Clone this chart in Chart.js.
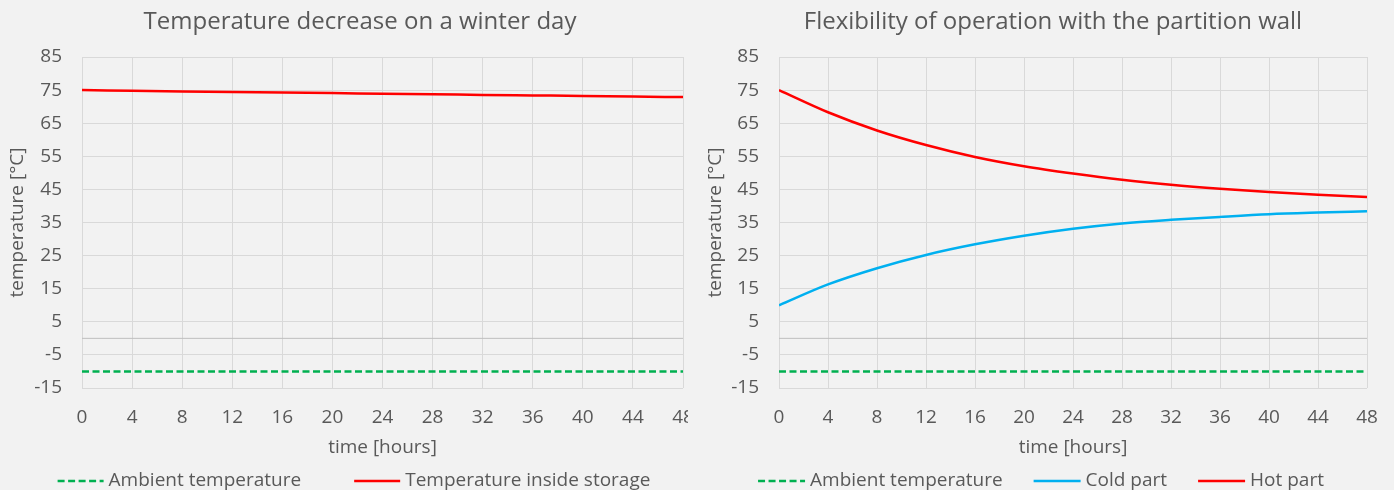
<!DOCTYPE html>
<html><head><meta charset="utf-8">
<script src="https://cdn.jsdelivr.net/npm/chart.js@4.4.1/dist/chart.umd.min.js"></script>
<style>
html,body{margin:0;padding:0;background:#f2f2f2;overflow:hidden;width:1394px;height:490px;}
#w1{position:absolute;left:0;top:0;width:688px;height:490px;overflow:hidden;}
#c2{position:absolute;left:697px;top:0;}
</style></head><body>
<div id="w1"><canvas id="c1" width="720" height="490"></canvas></div>
<canvas id="c2" width="712" height="490"></canvas>
<script>
// ---- data ----
const hours = [0, 4, 8, 12, 16, 20, 24, 28, 32, 36, 40, 44, 48];
const yTickValues = [-15, -5, 5, 15, 25, 35, 45, 55, 65, 75, 85];
const ambientTemp = [-10, -10, -10, -10, -10, -10, -10, -10, -10, -10, -10, -10, -10];
const storageTemp = [75.0, 74.8, 74.6, 74.45, 74.25, 74.1, 73.9, 73.75, 73.55, 73.4, 73.25, 73.05, 72.9];
const coldPart = [10.0, 16.3, 21.2, 25.2, 28.4, 31.0, 33.1, 34.7, 35.8, 36.7, 37.5, 38.0, 38.4];
const hotPart = [75.0, 68.3, 62.8, 58.4, 54.8, 52.0, 49.8, 47.9, 46.4, 45.2, 44.2, 43.4, 42.7];
const zeroHours = [0, 48];
const zeroValues = [0, 0];

const FONT = "'Open Sans', sans-serif";
const TXT = '#595959';
Chart.defaults.font.family = FONT;
Chart.defaults.color = TXT;

const pts = (xs, ys) => xs.map((x, i) => ({x: x, y: ys[i]}));

const bottomLegend = {
  id: 'bottomLegend',
  afterDraw(chart, args, o) {
    const ctx = chart.ctx;
    const items = chart.data.datasets.filter(d => !d.hideInLegend);
    ctx.save();
    ctx.font = o.size + 'px ' + FONT;
    const widths = items.map(d => ctx.measureText(d.label).width);
    let total = o.itemGap * (items.length - 1);
    items.forEach((d, i) => { total += o.lineLen + o.textGap + widths[i]; });
    let x = o.cx - total / 2;
    items.forEach((d, i) => {
      ctx.strokeStyle = d.borderColor; ctx.lineWidth = d.borderWidth;
      ctx.setLineDash(d.borderDash || []);
      ctx.beginPath(); ctx.moveTo(x, o.y); ctx.lineTo(x + o.lineLen, o.y); ctx.stroke();
      ctx.setLineDash([]);
      x += o.lineLen + o.textGap;
      ctx.fillStyle = TXT; ctx.textBaseline = 'middle'; ctx.textAlign = 'left';
      ctx.fillText(d.label, x, o.y);
      x += widths[i] + o.itemGap;
    });
    ctx.restore();
  }
};

function lineDs(label, ys, color, dash) {
  return {
    label: label, data: pts(hours, ys), borderColor: color, backgroundColor: color,
    borderWidth: 2.5, borderDash: dash || [], pointRadius: 0, fill: false,
    cubicInterpolationMode: 'monotone', order: 1
  };
}
function zeroDs() {
  return { label: 'zero', hideInLegend: true, data: pts(zeroHours, zeroValues),
    borderColor: '#bfbfbf', borderWidth: 1, pointRadius: 0, order: 10 };
}

function makeChart(canvas, title, datasets, rightBox, yTitlePad, legendOpts) {
  return new Chart(canvas, {
    type: 'line',
    data: { datasets: datasets },
    plugins: [bottomLegend],
    options: {
      responsive: false, animation: false, events: [],
      layout: { padding: { left: 0, right: 0, top: 0, bottom: 30 } },
      plugins: {
        legend: { display: false }, tooltip: { enabled: false },
        title: { display: true, text: title, color: TXT,
          font: { size: 24, weight: 'normal', family: FONT, lineHeight: 1.2 },
          padding: { top: 7.6, bottom: 20.6 } },
        bottomLegend: legendOpts
      },
      scales: {
        x: {
          type: 'linear', min: 0, max: 48,
          afterBuildTicks: s => { s.ticks = hours.map(v => ({value: v})); },
          afterFit: s => { s.height = 72; },
          grid: { color: '#d9d9d9', lineWidth: 1, drawTicks: false },
          border: { display: false },
          ticks: { padding: 18.6, font: { size: 19 }, color: TXT, maxRotation: 0 },
          title: { display: true, text: 'time [hours]', color: TXT, font: { size: 19 }, padding: { top: 0, bottom: 0.6 } }
        },
        y: {
          type: 'linear', min: -15, max: 85,
          afterBuildTicks: s => { s.ticks = yTickValues.map(v => ({value: v})); },
          afterFit: s => { s.width = 82; },
          grid: { color: '#d9d9d9', lineWidth: 1, drawTicks: false },
          border: { display: false },
          ticks: { padding: 20, font: { size: 19 }, color: TXT },
          title: { display: true, text: 'temperature [°C]', color: TXT, font: { size: 19 }, padding: { top: yTitlePad, bottom: 0 } }
        },
        yr: {
          type: 'linear', position: 'right', display: true,
          grid: { display: false }, border: { display: false },
          ticks: { display: false },
          afterFit: s => { s.width = rightBox; }
        }
      }
    }
  });
}

makeChart(document.getElementById('c1'), 'Temperature decrease on a winter day', [
  lineDs('Ambient temperature', ambientTemp, '#00b050', [7, 3.5]),
  lineDs('Temperature inside storage', storageTemp, '#ff0000'),
  zeroDs()
], 37, 6.6, { cx: 354, y: 481, size: 19, lineLen: 46, textGap: 5, itemGap: 53 });

makeChart(document.getElementById('c2'), 'Flexibility of operation with the partition wall', [
  lineDs('Ambient temperature', ambientTemp, '#00b050', [7, 3.5]),
  lineDs('Cold part', coldPart, '#00b0f0'),
  lineDs('Hot part', hotPart, '#ff0000'),
  zeroDs()
], 42, 7.6, { cx: 1041 - 697, y: 481, size: 19, lineLen: 47, textGap: 5, itemGap: 31 });
</script>
</body></html>
